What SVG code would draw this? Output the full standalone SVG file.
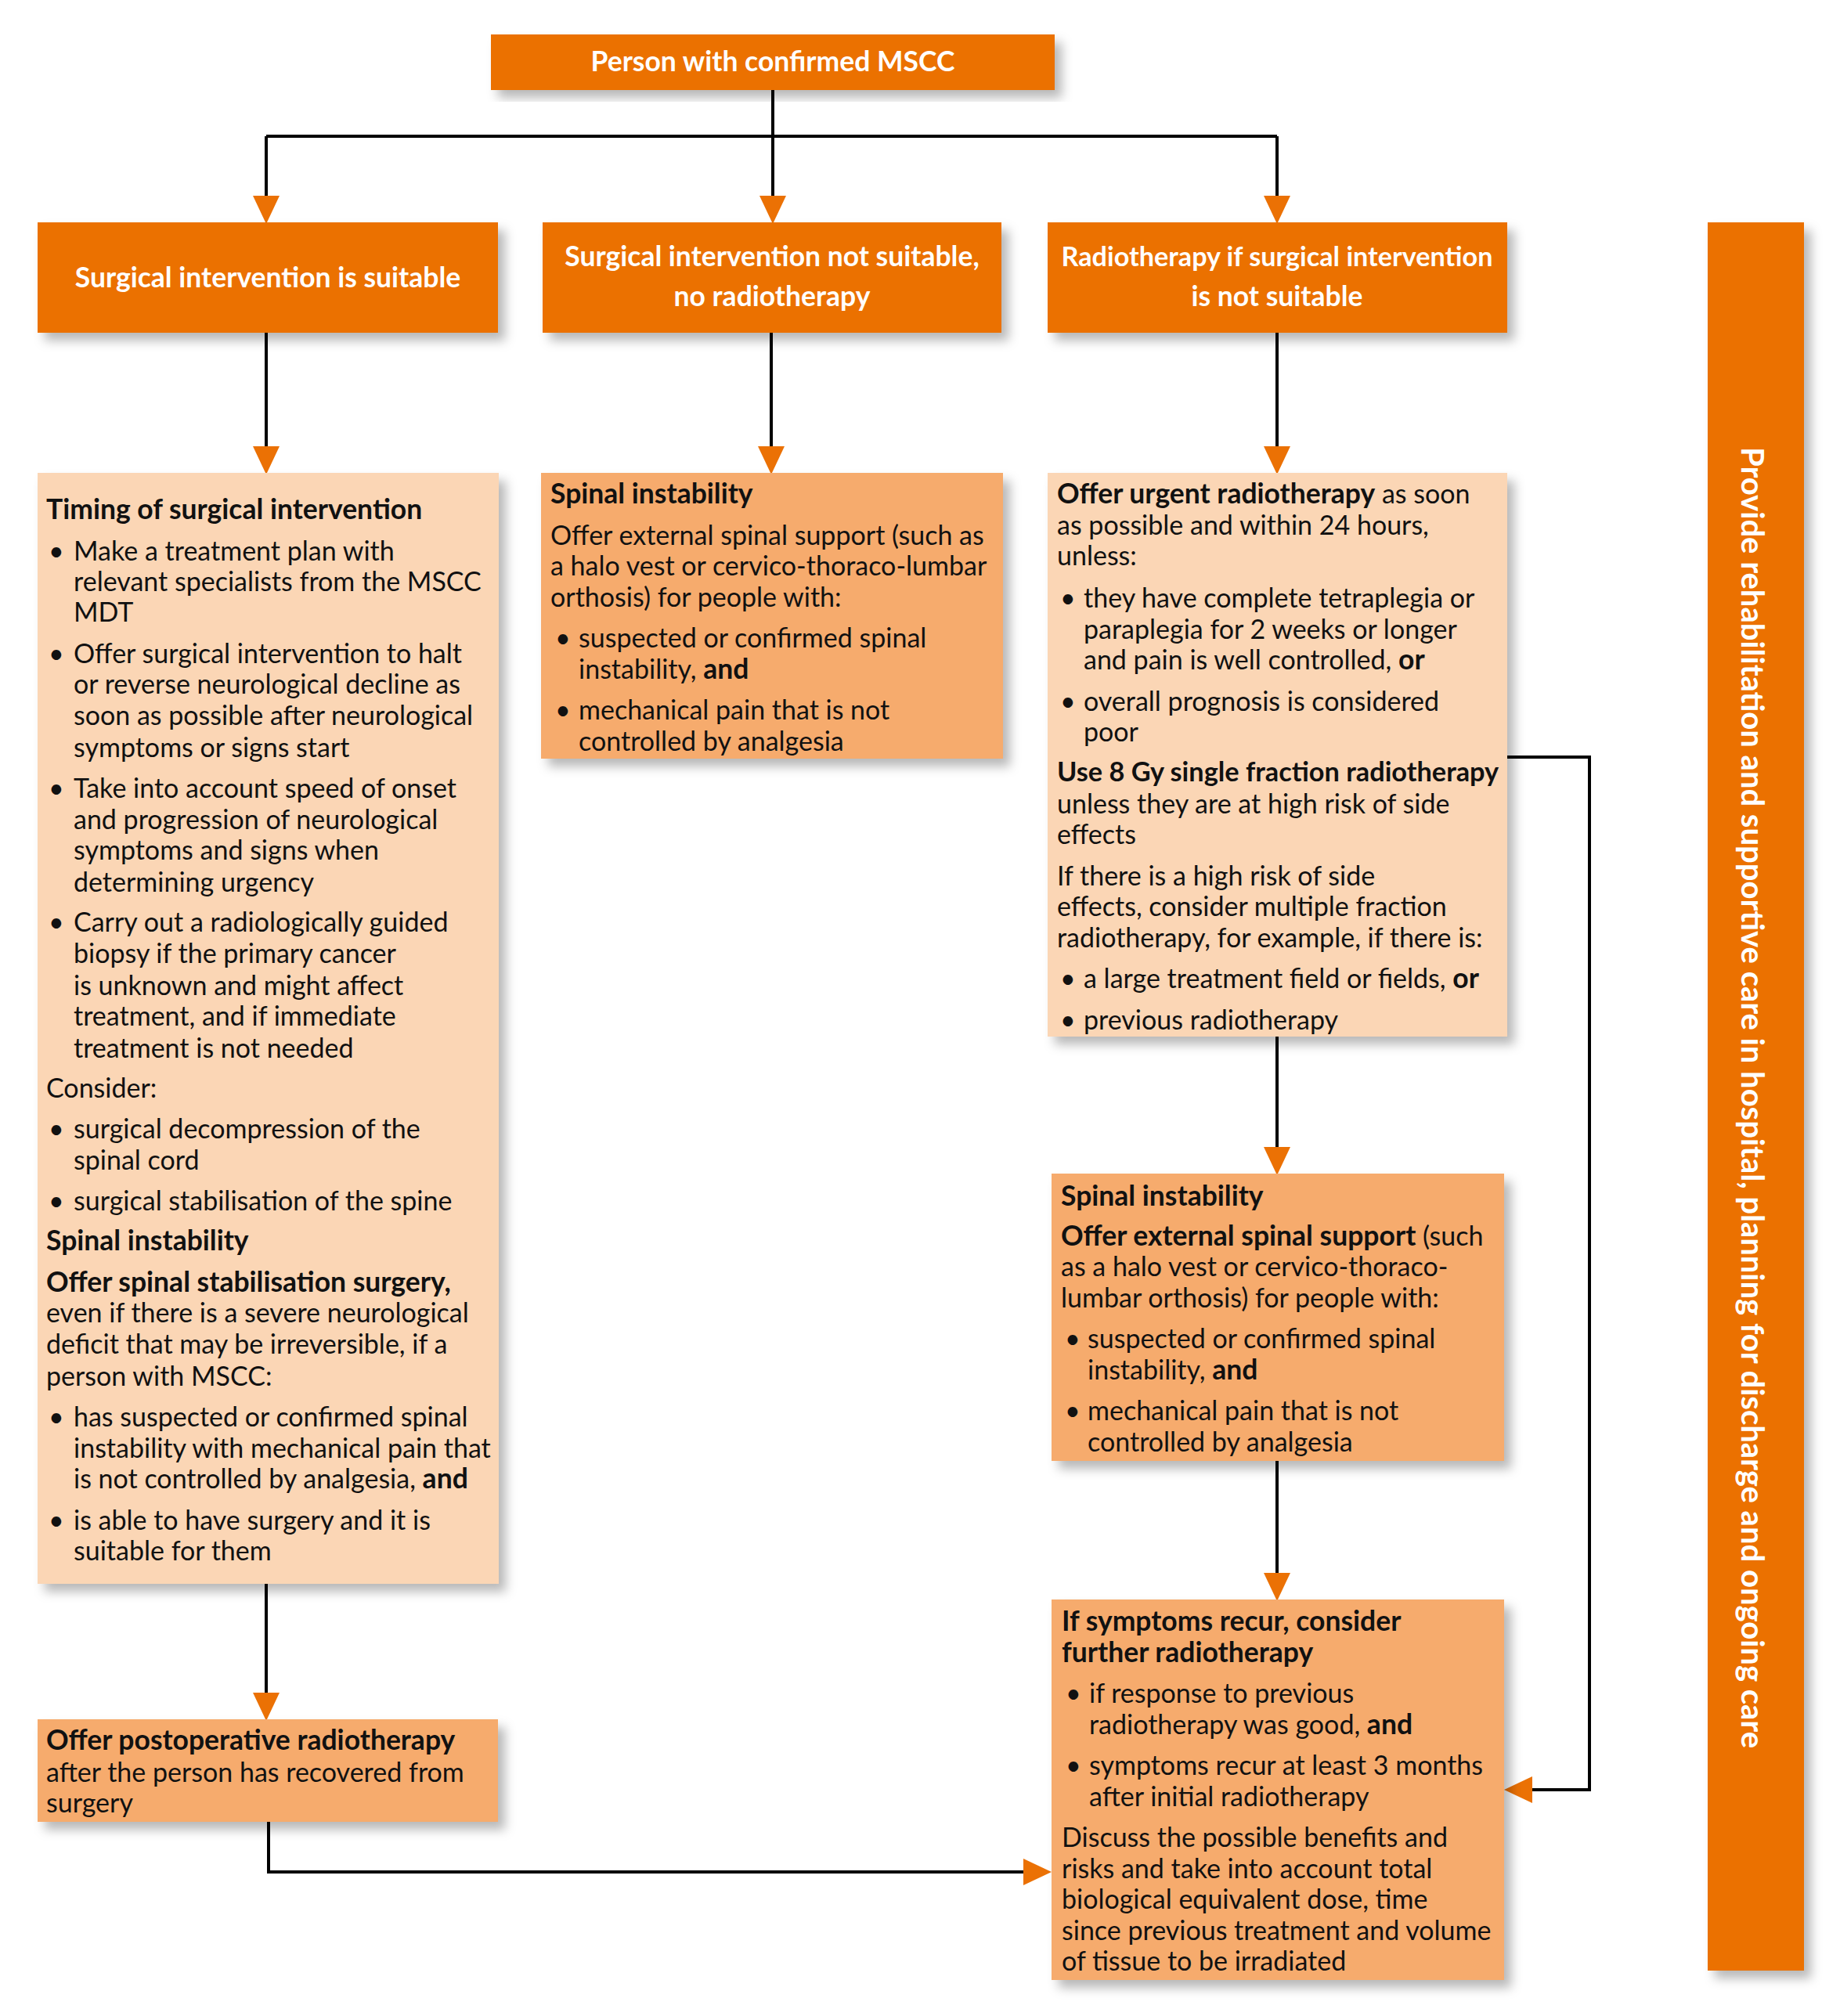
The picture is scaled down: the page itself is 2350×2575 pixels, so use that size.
<svg xmlns="http://www.w3.org/2000/svg" width="2350" height="2575" viewBox="0 0 2350 2575">
<defs>
<filter id="sh" x="-10%" y="-10%" width="130%" height="130%">
<feDropShadow dx="9" dy="10" stdDeviation="7" flood-color="#000" flood-opacity="0.28"/>
</filter>
<marker id="arr" viewBox="0 0 36 34" refX="0" refY="17" markerWidth="36" markerHeight="34" markerUnits="userSpaceOnUse" orient="auto">
<path d="M0,0 L36,17 L0,34 z" fill="#EB7104"/>
</marker>
<style>
.dk{fill:#EB7104}
.lt{fill:#FBD6B5}
.md{fill:#F6AB6D}
.t{font-family:Lato,"Open Sans","Liberation Sans",sans-serif;font-size:34px;fill:#111}
.b{font-weight:700;font-size:35.5px}
.w{font-family:Lato,"Open Sans","Liberation Sans",sans-serif;font-size:35.5px;font-weight:700;fill:#fff;text-anchor:middle}
.c{fill:none;stroke:#000;stroke-width:4}
</style>
</defs>
<rect width="2350" height="2575" fill="#fff"/>

<g id="connectors">
<path class="c" d="M987,115 V250" marker-end="url(#arr)"/>
<path class="c" d="M340,174 H1631"/>
<path class="c" d="M340,174 V250" marker-end="url(#arr)"/>
<path class="c" d="M1631,174 V250" marker-end="url(#arr)"/>
<path class="c" d="M340,425 V570" marker-end="url(#arr)"/>
<path class="c" d="M985,425 V570" marker-end="url(#arr)"/>
<path class="c" d="M1631,425 V570" marker-end="url(#arr)"/>
<path class="c" d="M1631,1324 V1465" marker-end="url(#arr)"/>
<path class="c" d="M1631,1866 V2009" marker-end="url(#arr)"/>
<path class="c" d="M340,2023 V2162" marker-end="url(#arr)"/>
<path class="c" d="M343,2327 V2391 H1307" marker-end="url(#arr)"/>
<path class="c" d="M1925,967 H2030 V2286 H1957" marker-end="url(#arr)"/>
</g>

<g id="n-top">
<rect class="dk" x="627" y="44" width="720" height="71" filter="url(#sh)"/>
<text class="w" x="987" y="91">Person with confirmed MSCC</text>
</g>

<g id="n-surg-suitable">
<rect class="dk" x="48" y="284" width="588" height="141" filter="url(#sh)"/>
<text class="w" x="342" y="367">Surgical intervention is suitable</text>
</g>

<g id="n-surg-not-suitable">
<rect class="dk" x="693" y="284" width="586" height="141" filter="url(#sh)"/>
<text class="w" x="986" y="340">Surgical intervention not suitable,</text>
<text class="w" x="986" y="391">no radiotherapy</text>
</g>

<g id="n-radio">
<rect class="dk" x="1338" y="284" width="587" height="141" filter="url(#sh)"/>
<text class="w" x="1631" y="340" style="font-size:34.2px">Radiotherapy if surgical intervention</text>
<text class="w" x="1631" y="391">is not suitable</text>
</g>

<g id="n-rehab">
<rect class="dk" x="2181" y="284" width="123" height="2233" filter="url(#sh)"/>
<text class="w" transform="translate(2238,1402) rotate(90)" x="0" y="14" style="font-size:40px">Provide rehabilitation and supportive care in hospital, planning for discharge and ongoing care</text>
</g>

<g id="n-timing">
<rect class="lt" x="48" y="604" width="589" height="1419" filter="url(#sh)"/>
<text class="t">
<tspan class="b" x="59" y="663">Timing of surgical intervention</tspan>
<tspan x="62" y="716">•</tspan><tspan x="94" y="716">Make a treatment plan with</tspan>
<tspan x="94" y="755">relevant specialists from the MSCC</tspan>
<tspan x="94" y="794">MDT</tspan>
<tspan x="62" y="847">•</tspan><tspan x="94" y="847">Offer surgical intervention to halt</tspan>
<tspan x="94" y="886">or reverse neurological decline as</tspan>
<tspan x="94" y="926">soon as possible after neurological</tspan>
<tspan x="94" y="967">symptoms or signs start</tspan>
<tspan x="62" y="1019">•</tspan><tspan x="94" y="1019">Take into account speed of onset</tspan>
<tspan x="94" y="1059">and progression of neurological</tspan>
<tspan x="94" y="1098">symptoms and signs when</tspan>
<tspan x="94" y="1139">determining urgency</tspan>
<tspan x="62" y="1190">•</tspan><tspan x="94" y="1190">Carry out a radiologically guided</tspan>
<tspan x="94" y="1230">biopsy if the primary cancer</tspan>
<tspan x="94" y="1271">is unknown and might affect</tspan>
<tspan x="94" y="1310">treatment, and if immediate</tspan>
<tspan x="94" y="1351">treatment is not needed</tspan>
<tspan x="59" y="1402">Consider:</tspan>
<tspan x="62" y="1454">•</tspan><tspan x="94" y="1454">surgical decompression of the</tspan>
<tspan x="94" y="1494">spinal cord</tspan>
<tspan x="62" y="1546">•</tspan><tspan x="94" y="1546">surgical stabilisation of the spine</tspan>
<tspan class="b" x="59" y="1597">Spinal instability</tspan>
<tspan class="b" x="59" y="1650">Offer spinal stabilisation surgery,</tspan>
<tspan x="59" y="1689">even if there is a severe neurological</tspan>
<tspan x="59" y="1729">deficit that may be irreversible, if a</tspan>
<tspan x="59" y="1770">person with MSCC:</tspan>
<tspan x="62" y="1822">•</tspan><tspan x="94" y="1822">has suspected or confirmed spinal</tspan>
<tspan x="94" y="1862">instability with mechanical pain that</tspan>
<tspan x="94" y="1901">is not controlled by analgesia, <tspan class="b">and</tspan></tspan>
<tspan x="62" y="1954">•</tspan><tspan x="94" y="1954">is able to have surgery and it is</tspan>
<tspan x="94" y="1993">suitable for them</tspan>
</text>
</g>

<g id="n-spinal-b">
<rect class="md" x="691" y="604" width="590" height="365" filter="url(#sh)"/>
<text class="t">
<tspan class="b" x="703" y="643">Spinal instability</tspan>
<tspan x="703" y="696">Offer external spinal support (such as</tspan>
<tspan x="703" y="735">a halo vest or cervico-thoraco-lumbar</tspan>
<tspan x="703" y="775">orthosis) for people with:</tspan>
<tspan x="709" y="827">•</tspan><tspan x="739" y="827">suspected or confirmed spinal</tspan>
<tspan x="739" y="867">instability, <tspan class="b">and</tspan></tspan>
<tspan x="709" y="919">•</tspan><tspan x="739" y="919">mechanical pain that is not</tspan>
<tspan x="739" y="959">controlled by analgesia</tspan>
</text>
</g>

<g id="n-urgent-radio">
<rect class="lt" x="1338" y="604" width="587" height="720" filter="url(#sh)"/>
<text class="t">
<tspan class="b" x="1350" y="643">Offer urgent radiotherapy</tspan><tspan> as soon</tspan>
<tspan x="1350" y="683">as possible and within 24 hours,</tspan>
<tspan x="1350" y="722">unless:</tspan>
<tspan x="1354" y="776">•</tspan><tspan x="1384" y="776">they have complete tetraplegia or</tspan>
<tspan x="1384" y="816">paraplegia for 2 weeks or longer</tspan>
<tspan x="1384" y="855">and pain is well controlled, <tspan class="b">or</tspan></tspan>
<tspan x="1354" y="908">•</tspan><tspan x="1384" y="908">overall prognosis is considered</tspan>
<tspan x="1384" y="947">poor</tspan>
<tspan class="b" x="1350" y="998" style="font-size:34.3px">Use 8 Gy single fraction radiotherapy</tspan>
<tspan x="1350" y="1039">unless they are at high risk of side</tspan>
<tspan x="1350" y="1078">effects</tspan>
<tspan x="1350" y="1131">If there is a high risk of side</tspan>
<tspan x="1350" y="1170">effects, consider multiple fraction</tspan>
<tspan x="1350" y="1210">radiotherapy, for example, if there is:</tspan>
<tspan x="1354" y="1262">•</tspan><tspan x="1384" y="1262">a large treatment field or fields, <tspan class="b">or</tspan></tspan>
<tspan x="1354" y="1315">•</tspan><tspan x="1384" y="1315">previous radiotherapy</tspan>
</text>
</g>

<g id="n-spinal-c">
<rect class="md" x="1343" y="1499" width="578" height="367" filter="url(#sh)"/>
<text class="t">
<tspan class="b" x="1355" y="1540">Spinal instability</tspan>
<tspan class="b" x="1355" y="1591">Offer external spinal support</tspan><tspan> (such</tspan>
<tspan x="1355" y="1630">as a halo vest or cervico-thoraco-</tspan>
<tspan x="1355" y="1670">lumbar orthosis) for people with:</tspan>
<tspan x="1360" y="1722">•</tspan><tspan x="1389" y="1722">suspected or confirmed spinal</tspan>
<tspan x="1389" y="1762">instability, <tspan class="b">and</tspan></tspan>
<tspan x="1360" y="1814">•</tspan><tspan x="1389" y="1814">mechanical pain that is not</tspan>
<tspan x="1389" y="1854">controlled by analgesia</tspan>
</text>
</g>

<g id="n-recur">
<rect class="md" x="1343" y="2043" width="578" height="486" filter="url(#sh)"/>
<text class="t">
<tspan class="b" x="1356" y="2083">If symptoms recur, consider</tspan>
<tspan class="b" x="1356" y="2123">further radiotherapy</tspan>
<tspan x="1361" y="2175">•</tspan><tspan x="1391" y="2175">if response to previous</tspan>
<tspan x="1391" y="2215">radiotherapy was good, <tspan class="b">and</tspan></tspan>
<tspan x="1361" y="2267">•</tspan><tspan x="1391" y="2267">symptoms recur at least 3 months</tspan>
<tspan x="1391" y="2307">after initial radiotherapy</tspan>
<tspan x="1356" y="2359">Discuss the possible benefits and</tspan>
<tspan x="1356" y="2399">risks and take into account total</tspan>
<tspan x="1356" y="2438">biological equivalent dose, time</tspan>
<tspan x="1356" y="2478">since previous treatment and volume</tspan>
<tspan x="1356" y="2517">of tissue to be irradiated</tspan>
</text>
</g>

<g id="n-postop">
<rect class="md" x="48" y="2196" width="588" height="131" filter="url(#sh)"/>
<text class="t">
<tspan class="b" x="59" y="2235">Offer postoperative radiotherapy</tspan>
<tspan x="59" y="2276">after the person has recovered from</tspan>
<tspan x="59" y="2315">surgery</tspan>
</text>
</g>
</svg>
